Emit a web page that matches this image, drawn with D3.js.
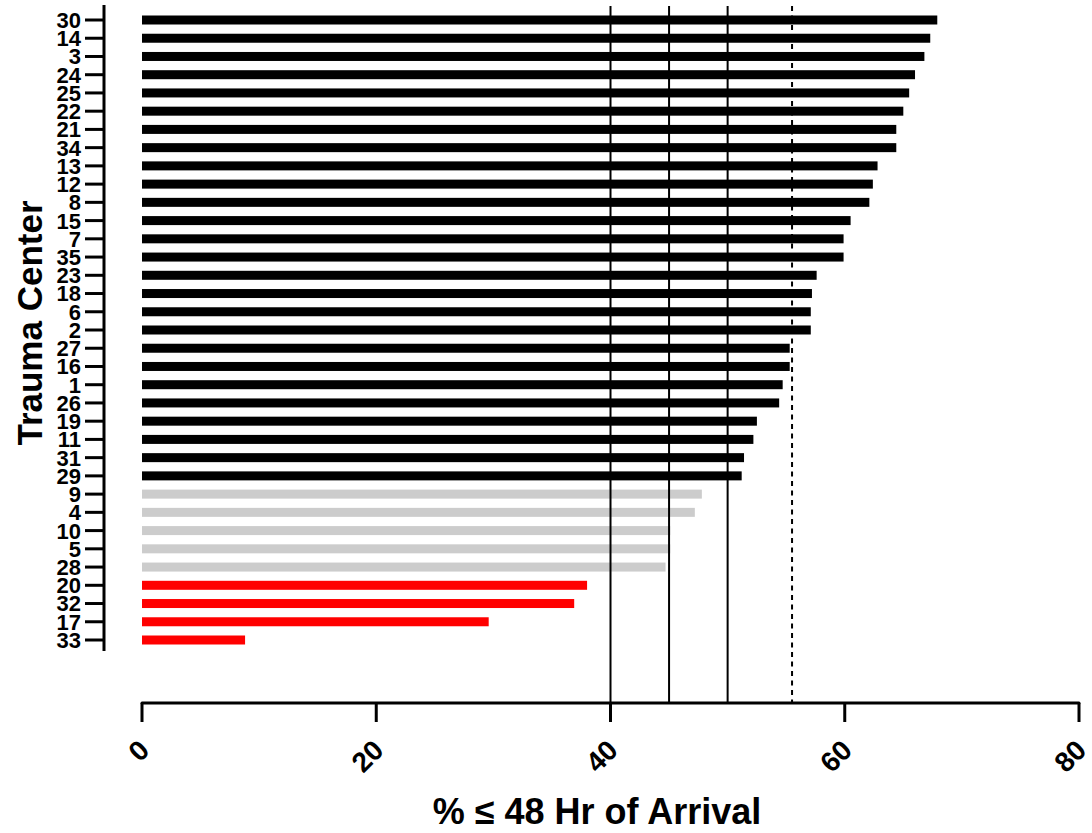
<html>
  <head>
    <meta charset="UTF-8" />
    <style>
      body { margin: 0; background: white; }
      text { font-family: "Liberation Sans", Arial, sans-serif; font-weight: bold; }
    </style>
    <script src="https://d3js.org/d3.v7.min.js"></script>
  </head>
  <body>
    <svg id="svg"></svg>
    <script>
      // trauma centers, top to bottom
      var centers = ["30", "14", "3", "24", "25", "22", "21", "34", "13", "12", "8",
        "15", "7", "35", "23", "18", "6", "2", "27", "16", "1", "26", "19", "11",
        "31", "29", "9", "4", "10", "5", "28", "20", "32", "17", "33"];
      var pct48 = [67.9, 67.3, 66.8, 66.0, 65.5, 65.0, 64.4, 64.4, 62.8, 62.4, 62.1,
        60.5, 59.9, 59.9, 57.6, 57.2, 57.1, 57.1, 55.3, 55.3, 54.7, 54.4, 52.5, 52.2,
        51.4, 51.2, 47.8, 47.2, 45.1, 45.1, 44.7, 38.0, 36.9, 29.6, 8.8];
      var group = ["high", "high", "high", "high", "high", "high", "high", "high", "high",
        "high", "high", "high", "high", "high", "high", "high", "high", "high", "high",
        "high", "high", "high", "high", "high", "high", "high",
        "mid", "mid", "mid", "mid", "mid", "low", "low", "low", "low"];
      var refLines = [40, 45, 50];
      var refDashed = [55.5];
      var xTicks = [0, 20, 40, 60, 80];

      var colors = { high: "#000000", mid: "#cccccc", low: "#ff0000" };

      var width = 1092, height = 833;
      var svg = d3.select("#svg").attr("width", width).attr("height", height);

      var x = d3.scaleLinear().domain([0, 80]).range([142, 1079]);
      var y = d3.scalePoint().domain(centers).range([20, 640]);
      var axisY = 703, yAxisX = 104;

      // bars
      svg.append("g")
        .selectAll("rect")
        .data(centers)
        .enter()
        .append("rect")
        .attr("x", x(0))
        .attr("y", (d) => y(d) - 4.5)
        .attr("width", (d, i) => x(pct48[i]) - x(0))
        .attr("height", 9)
        .attr("fill", (d, i) => colors[group[i]]);

      // reference lines drawn over the bars
      svg.append("g")
        .selectAll("line")
        .data(refLines)
        .enter()
        .append("line")
        .attr("x1", (d) => x(d)).attr("x2", (d) => x(d))
        .attr("y1", 6).attr("y2", axisY)
        .attr("stroke", "black")
        .attr("stroke-width", 2);

      svg.append("g")
        .selectAll("line")
        .data(refDashed)
        .enter()
        .append("line")
        .attr("x1", (d) => x(d)).attr("x2", (d) => x(d))
        .attr("y1", 6).attr("y2", axisY)
        .attr("stroke", "black")
        .attr("stroke-width", 2)
        .attr("stroke-dasharray", "5,4.5");

      // y axis
      var gy = svg.append("g").attr("transform", "translate(" + yAxisX + ",0)");
      gy.append("line")
        .attr("x1", 0).attr("x2", 0)
        .attr("y1", 5).attr("y2", 651)
        .attr("stroke", "black").attr("stroke-width", 3);
      gy.selectAll(".tick")
        .data(centers)
        .enter()
        .append("line")
        .attr("x1", -19).attr("x2", 0)
        .attr("y1", (d) => y(d)).attr("y2", (d) => y(d))
        .attr("stroke", "black").attr("stroke-width", 3);
      gy.selectAll(".lab")
        .data(centers)
        .enter()
        .append("text")
        .attr("x", -23)
        .attr("y", (d) => y(d))
        .attr("dy", "0.36em")
        .attr("text-anchor", "end")
        .style("font-size", "22px")
        .text((d) => d);

      // x axis
      var gx = svg.append("g").attr("transform", "translate(0," + axisY + ")");
      gx.append("line")
        .attr("x1", x(0)).attr("x2", x(80))
        .attr("y1", 0).attr("y2", 0)
        .attr("stroke", "black").attr("stroke-width", 3)
        .attr("stroke-linecap", "round");
      gx.selectAll(".tick")
        .data(xTicks)
        .enter()
        .append("line")
        .attr("x1", (d) => x(d)).attr("x2", (d) => x(d))
        .attr("y1", 0).attr("y2", 19)
        .attr("stroke", "black").attr("stroke-width", 3);
      gx.selectAll(".lab")
        .data(xTicks)
        .enter()
        .append("text")
        .attr("transform", (d) => "translate(" + (x(d) + 9) + ",49) rotate(-45)")
        .attr("text-anchor", "end")
        .style("font-size", "28px")
        .text((d) => d);

      // axis titles
      svg.append("text")
        .attr("transform", "translate(42,323) rotate(-90)")
        .attr("text-anchor", "middle")
        .style("font-size", "35px")
        .text("Trauma Center");

      svg.append("text")
        .attr("x", 597)
        .attr("y", 824)
        .attr("text-anchor", "middle")
        .style("font-size", "36px")
        .text("% \u2264 48 Hr of Arrival");
    </script>
  </body>
</html>
